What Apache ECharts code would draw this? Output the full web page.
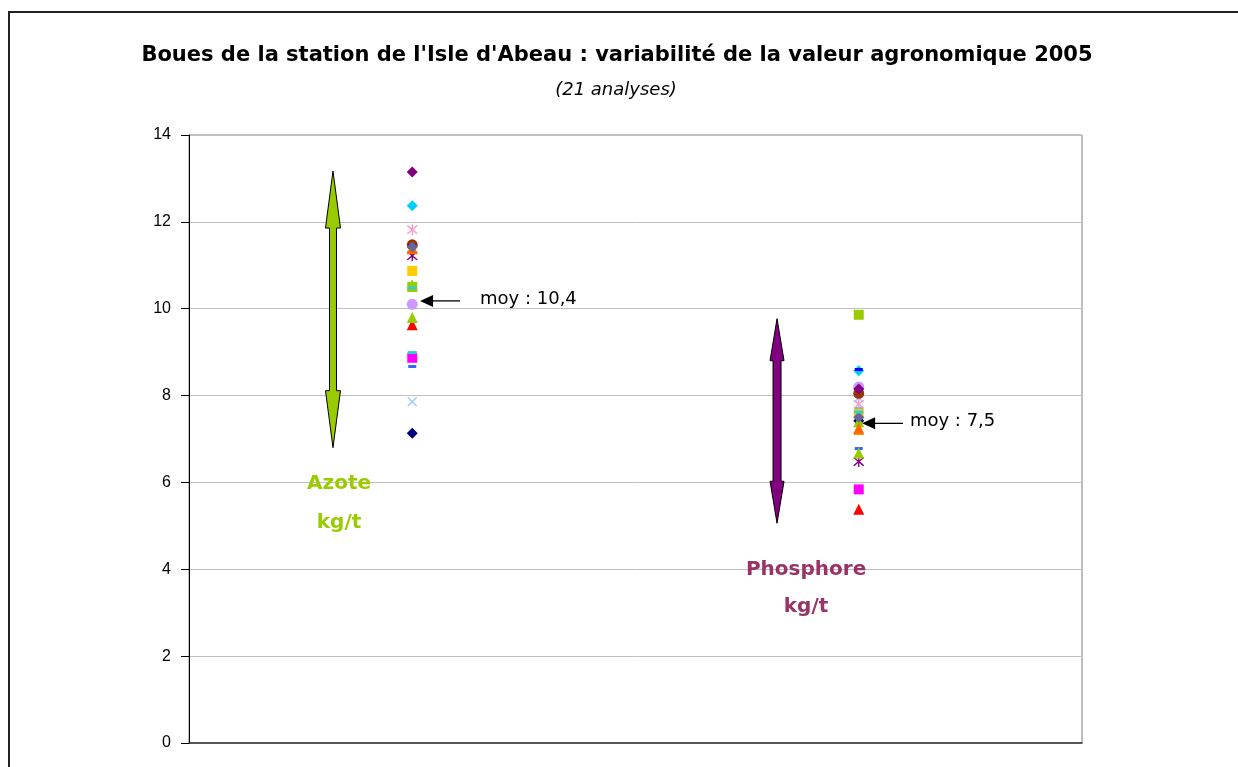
<!DOCTYPE html>
<html>
<head>
<meta charset="utf-8">
<script src="https://cdn.jsdelivr.net/npm/echarts@6/dist/echarts.min.js"></script>
<style>
    html, body { margin: 0; padding: 0; background: #fff; }
    #main { width: 1238px; height: 767px; }
</style>
</head>
<body>
<div id="main"></div>
<script>
// positions des deux colonnes sur l'axe x (caché)
const colonnes = ['Azote', 'Phosphore'];
const colonneX = [1, 3];

// 21 analyses : azote et phosphore en kg/t
const azote = [7.13, 8.87, 9.63, 7.86, 11.22, 10.10, 8.67, 8.99, 9.80, 10.50, 10.87,
    11.40, 11.47, 11.82, 12.37, 13.15, 11.45, 10.55, 11.38, 11.42, 10.48];
const phosphore = [7.42, 5.84, 5.38, 7.95, 6.48, 8.20, 6.78, 7.70, 6.68, 9.86, 7.58,
    7.22, 8.05, 7.80, 8.57, 8.15, 8.60, 7.40, 7.25, 7.50, 7.62];

// moyennes
const moyennes = [10.4, 7.5];
const moyLabels = ['moy : 10,4', 'moy : 7,5'];

// flèches doubles : [x, haut, bas]
const fleches = [[0.645, 13.17, 6.80], [2.634, 9.77, 5.06]];
// flèches des moyennes : [x pointe, x queue, y]
const flechesMoy = [[1.035, 1.214, 10.18], [3.015, 3.198, 7.36]];
// étiquettes : [x, y, texte]
const etiquettes = [[0.672, 5.98, 'Azote'], [0.672, 5.08, 'kg/t'],
    [2.764, 3.98, 'Phosphore'], [2.764, 3.13, 'kg/t']];

// ticks y
const yTicks = [0, 2, 4, 6, 8, 10, 12, 14];

//styles des marqueurs (façon Excel)
const X_PATH = 'path://M1,0L5,4L9,0L10,1L6,5L10,9L9,10L5,6L1,10L0,9L4,5L0,1Z';
const STAR_PATH = 'path://M1,0L5,4L9,0L10,1L6,5L10,9L9,10L5,6L1,10L0,9L4,5L0,1ZM4.4,-1L5.6,-1L5.6,11L4.4,11Z';
const couleurs = ['#000080', '#FF00FF', '#FF0000', '#99CCFF', '#800080', '#CC99FF', '#3366FF',
    '#33CCCC', '#99CC00', '#99CC00', '#FFCC00', '#FF9900', '#993300', '#FF99CC', '#00CCFF',
    '#800080', '#0000FF', '#99CC00', '#FF6600', '#666699', '#33CCCC'];
const symboles = ['diamond', 'rect', 'triangle', X_PATH, STAR_PATH, 'circle', 'rect',
    'rect', 'triangle', 'rect', 'rect', 'triangle', 'circle', STAR_PATH, 'diamond',
    'diamond', 'rect', 'triangle', 'triangle', 'diamond', 'rect'];
const tailles = [11, 10, 11, 10, 11, 11, [8, 3], [9, 3], 11, 10, 10, 11, 11, 11, 11, 11, [8, 3], 11, 11, 11, [9, 3]];

const comic = '"Comic Sans MS", "DejaVu Sans", sans-serif';

var myChart = echarts.init(document.getElementById('main'));

let series = [];
for (let i = 0; i < azote.length; i++) {
    series.push({
        type: 'scatter',
        name: 'Analyse ' + (i + 1),
        symbol: symboles[i],
        symbolSize: tailles[i],
        itemStyle: { color: couleurs[i], opacity: 1 },
        data: [[colonneX[0], azote[i]], [colonneX[1], phosphore[i]]],
        z: 3
    });
}

// flèches doubles (vert / violet)
const flecheStyles = [
    { fill: '#99CC00', head: 57, shaft: 3.5, half: 7.5 },
    { fill: '#800080', head: 42, shaft: 4, half: 7 }
];
series.push({
    type: 'custom',
    name: 'fleches',
    data: fleches,
    z: 4,
    renderItem: function (params, api) {
        const top = api.coord([api.value(0), api.value(1)]);
        const bot = api.coord([api.value(0), api.value(2)]);
        const s = flecheStyles[params.dataIndex];
        const x = top[0];
        const pts = [
            [x, top[1]], [x + s.half, top[1] + s.head], [x + s.shaft, top[1] + s.head],
            [x + s.shaft, bot[1] - s.head], [x + s.half, bot[1] - s.head], [x, bot[1]],
            [x - s.half, bot[1] - s.head], [x - s.shaft, bot[1] - s.head],
            [x - s.shaft, top[1] + s.head], [x - s.half, top[1] + s.head]
        ];
        return {
            type: 'polygon',
            shape: { points: pts },
            style: { fill: s.fill, stroke: '#000', lineWidth: 1 }
        };
    }
});

// flèches des moyennes
series.push({
    type: 'custom',
    name: 'moyennes',
    data: flechesMoy,
    z: 5,
    renderItem: function (params, api) {
        const tip = api.coord([api.value(0), api.value(2)]);
        const tail = api.coord([api.value(1), api.value(2)]);
        return {
            type: 'group',
            children: [
                {
                    type: 'line',
                    shape: { x1: tip[0] + 10, y1: tip[1], x2: tail[0], y2: tail[1] },
                    style: { stroke: '#000', lineWidth: 1.3 }
                },
                {
                    type: 'polygon',
                    shape: { points: [[tip[0], tip[1]], [tip[0] + 13, tip[1] - 6], [tip[0] + 13, tip[1] + 6]] },
                    style: { fill: '#000' }
                },
                {
                    type: 'text',
                    x: tail[0] + 20 - (params.dataIndex === 1 ? 13 : 0),
                    y: tail[1] - 2,
                    style: {
                        text: moyLabels[params.dataIndex],
                        fill: '#000',
                        font: '18px ' + comic,
                        verticalAlign: 'middle',
                        align: 'left'
                    }
                }
            ]
        };
    }
});

// étiquettes Azote / Phosphore
series.push({
    type: 'custom',
    name: 'etiquettes',
    data: etiquettes.map(e => [e[0], e[1]]),
    z: 5,
    renderItem: function (params, api) {
        const p = api.coord([api.value(0), api.value(1)]);
        const txt = etiquettes[params.dataIndex][2];
        return {
            type: 'text',
            x: p[0],
            y: p[1],
            style: {
                text: txt,
                fill: params.dataIndex < 2 ? '#99CC00' : '#993366',
                font: 'bold 20px ' + comic,
                align: 'center',
                verticalAlign: 'middle'
            }
        };
    }
});

var option = {
    animation: false,
    backgroundColor: '#fff',
    title: [{
        text: "Boues de la station de l'Isle d'Abeau : variabilité de la valeur agronomique 2005",
        left: 612,
        top: 40,
        textAlign: 'center',
        textStyle: { fontFamily: comic, fontSize: 21, fontWeight: 'bold', color: '#000' }
    }, {
        text: '(21 analyses)',
        left: 611,
        top: 76,
        textAlign: 'center',
        textStyle: { fontFamily: comic, fontSize: 18, fontStyle: 'italic', fontWeight: 'normal', color: '#000' }
    }],
    graphic: [{
        type: 'rect',
        shape: { x: 9, y: 12, width: 1300, height: 800 },
        style: { fill: 'none', stroke: '#222', lineWidth: 2 },
        silent: true
    }],
    grid: {
        left: 189, right: 156, top: 135, bottom: 24,
        show: true,
        borderColor: '#808080',
        borderWidth: 1
    },
    xAxis: {
        type: 'value',
        min: 0,
        max: 4,
        axisLine: { show: true, onZero: false, lineStyle: { color: '#333', width: 1.5 } },
        axisTick: { show: false },
        axisLabel: { show: false },
        splitLine: { show: false }
    },
    yAxis: {
        type: 'value',
        min: yTicks[0],
        max: yTicks[yTicks.length - 1],
        interval: 2,
        axisLine: { show: true, lineStyle: { color: '#000', width: 1 } },
        axisTick: { show: true, length: 8, lineStyle: { color: '#000' } },
        axisLabel: {
            color: '#000',
            fontFamily: 'Liberation Sans, Arial, sans-serif',
            fontSize: 16,
            margin: 18
        },
        splitLine: { show: true, lineStyle: { color: '#c0c0c0', width: 1 } }
    },
    series: series
};

myChart.setOption(option);
</script>
</body>
</html>
